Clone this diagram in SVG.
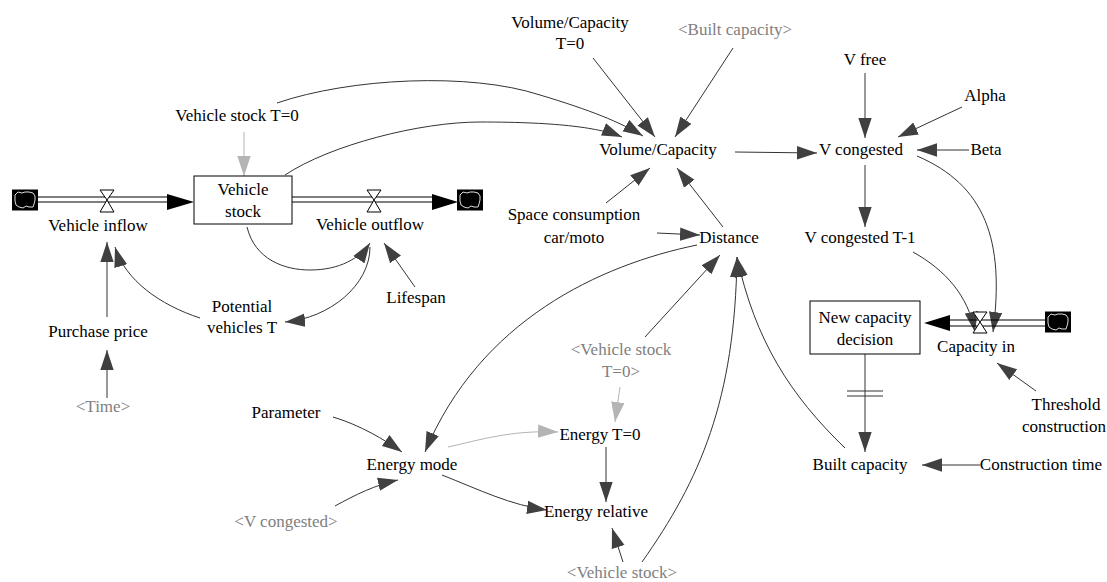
<svg xmlns="http://www.w3.org/2000/svg" width="1107" height="582" viewBox="0 0 1107 582">
<style>
text{font-size:17px;fill:#000;text-anchor:middle}
text.sh{fill:#808080}
.c{fill:none;stroke:#333;stroke-width:1;marker-end:url(#ah)}
.g{fill:none;stroke:#b4b4b4;stroke-width:1;marker-end:url(#gh)}
.pipe{stroke:#000;stroke-width:1.2;fill:none}
.valve{fill:#fff;stroke:#000;stroke-width:1}
.box{fill:#fff;stroke:#000;stroke-width:1}
.cloudbg{fill:#000}
.cloud{fill:none;stroke:#ddd;stroke-width:1}
.fh{fill:#000}
</style>
<defs>
<marker id="ah" markerUnits="userSpaceOnUse" markerWidth="20" markerHeight="14" viewBox="0 0 18 12" refX="18" refY="6" orient="auto"><path d="M0,0 L18,6 L0,12 z" fill="#404040"/></marker>
<marker id="gh" markerUnits="userSpaceOnUse" markerWidth="20" markerHeight="14" viewBox="0 0 18 12" refX="18" refY="6" orient="auto"><path d="M0,0 L18,6 L0,12 z" fill="#b4b4b4"/></marker>
<g id="cloudshape"><rect class="cloudbg" x="-13" y="-10.5" width="26" height="21"/><path class="cloud" d="M-10,-5 L-7,-8 L-3,-7 L0,-8 L4,-8 L8,-7 L10,-4 L10,0 L9,4 L8,7 L4,7 L1,6 L-2,8 L-6,7 L-9,5 L-10,1 z"/></g>
</defs>

<g id="connectors">
<path class="g" d="M244,132 L244,176"/>
<path class="c" d="M277,103 C350,78 470,72 540,95 C590,110 620,122 643,136"/>
<path class="c" d="M285,175 C330,145 420,122 480,122 C560,122 600,128 622,137"/>
<path class="c" d="M593,58 L655,137"/>
<path class="c" d="M733,48 L675,137"/>
<path class="c" d="M606,203 L650,168"/>
<path class="c" d="M723,227 L677,168"/>
<path class="c" d="M735,152 L817,153"/>
<path class="c" d="M865,73 L865,138"/>
<path class="c" d="M962,107 L898,137"/>
<path class="c" d="M969,150 L917,150"/>
<path class="c" d="M865,165 L865,227"/>
<path class="c" d="M917,156 C985,185 1005,240 993,332"/>
<path class="c" d="M913,252 C945,270 968,295 975,332"/>
<path class="c" d="M1036,391 L997,363"/>
<path class="c" d="M865,354 L865,452"/>
<path d="M847,391 L883,391 M847,396 L883,396" stroke="#333" stroke-width="1"/>
<path class="c" d="M980,465 L922,465"/>
<path class="c" d="M845,448 C790,395 755,340 737,257"/>
<path class="c" d="M642,562 C700,480 735,400 737,257"/>
<path class="c" d="M657,233 L700,235"/>
<path class="c" d="M645,337 L720,255"/>
<path class="c" d="M697,245 C600,265 480,320 425,452"/>
<path class="c" d="M333,417 C360,425 385,440 402,452"/>
<path class="c" d="M335,506 C355,495 375,485 398,480"/>
<path class="g" d="M448,447 C480,440 510,430 558,432"/>
<path class="g" d="M620,387 L615,422"/>
<path class="c" d="M606,447 L606,502"/>
<path class="c" d="M442,475 C480,490 510,505 547,510"/>
<path class="c" d="M623,562 L612,528"/>
<path class="c" d="M415,287 L384,243"/>
<path class="c" d="M247,227 C255,260 285,270 310,270 C340,270 360,258 370,243"/>
<path class="c" d="M370,247 C370,285 330,318 285,322"/>
<path class="c" d="M200,318 C160,305 125,280 115,247"/>
<path class="c" d="M107,317 L107,242"/>
<path class="c" d="M107,398 L107,350"/>
</g>

<g font-family="'Liberation Serif', 'DejaVu Serif', serif">
<g id="flow-vehicle-inflow">
<use href="#cloudshape" x="25" y="200"/>
<path class="pipe" d="M38,197 L170,197 M38,202 L170,202"/>
<path class="fh" d="M167,194 L194,202 L167,210 z"/>
<path class="valve" d="M100,190 L114,190 L107,200 z M107,200 L114,212 L100,212 z"/>
<text x="98" y="231">Vehicle inflow</text>
</g>

<g id="node-vehicle-stock">
<rect class="box" x="194" y="176" width="98" height="48"/>
<text x="243" y="195">Vehicle</text>
<text x="243" y="217">stock</text>
</g>

<g id="flow-vehicle-outflow">
<path class="pipe" d="M292,197 L435,197 M292,202 L435,202"/>
<path class="fh" d="M432,194 L458,202 L432,210 z"/>
<use href="#cloudshape" x="470" y="200"/>
<path class="valve" d="M367,190 L381,190 L374,200 z M374,200 L381,212 L367,212 z"/>
<text x="370" y="230">Vehicle outflow</text>
</g>

<g id="node-vehicle-stock-t0"><text x="237" y="121">Vehicle stock  T=0</text></g>
<g id="node-lifespan"><text x="416" y="303">Lifespan</text></g>
<g id="node-potential-vehicles"><text x="242" y="312">Potential</text><text x="242" y="333">vehicles T</text></g>
<g id="node-purchase-price"><text x="98" y="337">Purchase price</text></g>
<g id="node-time"><text class="sh" x="103" y="412">&lt;Time&gt;</text></g>

<g id="node-volcap-t0"><text x="570" y="28">Volume/Capacity</text><text x="570" y="49">T=0</text></g>
<g id="node-built-capacity-shadow"><text class="sh" x="735" y="35">&lt;Built capacity&gt;</text></g>
<g id="node-volcap"><text x="658" y="155">Volume/Capacity</text></g>
<g id="node-space-consumption"><text x="574" y="220">Space consumption</text><text x="574" y="243">car/moto</text></g>
<g id="node-distance"><text x="729" y="243">Distance</text></g>

<g id="node-v-free"><text x="865" y="65">V free</text></g>
<g id="node-alpha"><text x="985" y="101">Alpha</text></g>
<g id="node-beta"><text x="986" y="155">Beta</text></g>
<g id="node-v-congested"><text x="861" y="155">V congested</text></g>
<g id="node-v-congested-t1"><text x="860" y="243">V congested T-1</text></g>

<g id="flow-capacity-in">
<use href="#cloudshape" x="1058" y="322"/>
<path class="pipe" d="M945,320 L1045,320 M945,326 L1045,326"/>
<path class="fh" d="M950,315 L924,323 L950,331 z"/>
<path class="valve" d="M973,312 L987,312 L980,322 z M980,322 L987,333 L973,333 z"/>
<text x="976" y="352">Capacity in</text>
</g>

<g id="node-new-capacity-decision">
<rect class="box" x="810" y="301" width="110" height="53"/>
<text x="865" y="323">New capacity</text>
<text x="865" y="345">decision</text>
</g>

<g id="node-threshold"><text x="1066" y="410">Threshold</text><text x="1064" y="432">construction</text></g>
<g id="node-built-capacity"><text x="860" y="470">Built capacity</text></g>
<g id="node-construction-time"><text x="1041" y="470">Construction time</text></g>

<g id="node-vehicle-stock-t0-shadow"><text class="sh" x="621" y="355">&lt;Vehicle stock</text><text class="sh" x="621" y="377">T=0&gt;</text></g>
<g id="node-parameter"><text x="286" y="418">Parameter</text></g>
<g id="node-energy-mode"><text x="412" y="470">Energy mode</text></g>
<g id="node-v-congested-shadow"><text class="sh" x="286" y="527">&lt;V congested&gt;</text></g>
<g id="node-energy-t0"><text x="600" y="440">Energy T=0</text></g>
<g id="node-energy-relative"><text x="596" y="517">Energy relative</text></g>
<g id="node-vehicle-stock-shadow"><text class="sh" x="622" y="578">&lt;Vehicle stock&gt;</text></g>
</g>
</svg>
